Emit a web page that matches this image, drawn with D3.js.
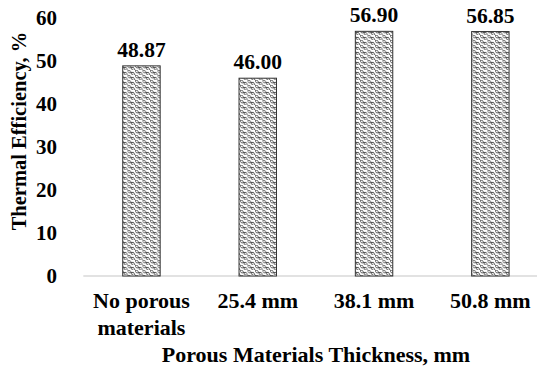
<!DOCTYPE html>
<html>
<head>
<meta charset="utf-8">
<script src="https://cdn.jsdelivr.net/npm/d3@7"></script>
<style>
  body { margin: 0; background: #fff; }
  svg { display: block; }
  text { font-family: "Liberation Serif", "Times New Roman", serif; font-weight: bold; fill: #000; }
</style>
</head>
<body>
<div id="wrapper"></div>
<script>
/// Data ///
const categories = ["No porous materials", "25.4 mm", "38.1 mm", "50.8 mm"];
const categoryLines = [["No porous", "materials"], ["25.4 mm"], ["38.1 mm"], ["50.8 mm"]];
const efficiency = [48.87, 46.00, 56.90, 56.85];
const yTicks = [0, 10, 20, 30, 40, 50, 60];

/// Dimensions ///
const width = 537;
const height = 370;

const svg = d3.select("#wrapper").append("svg")
  .attr("width", width)
  .attr("height", height);

// scale-like fill pattern
const defs = svg.append("defs");
const pat = defs.append("pattern")
  .attr("id", "scales")
  .attr("patternUnits", "userSpaceOnUse")
  .attr("width", 7.5)
  .attr("height", 5);
pat.append("rect").attr("width", 7.5).attr("height", 5).attr("fill", "#fff");
pat.append("path")
  .attr("d", "M0,0 Q0.5,4 3.75,2.5 Q6.5,1 7.5,5 M3.75,2.5 Q4.2,5.5 6,5 M-3.75,2.5 Q-1,1 0,5 M0,0 Q2,-1 3.75,2.5 M3.75,-2.5 Q6,-3 7.5,0")
  .attr("fill", "none")
  .attr("stroke", "#444")
  .attr("stroke-width", 0.9);

/// Scales ///
const x = d3.scaleBand()
  .domain(categories)
  .range([83.3, 548.5])
  .paddingInner(0.678)
  .paddingOuter(0.339);

const y = d3.scaleLinear()
  .domain([0, 60])
  .range([276, 18]);

/// Axis line ///
svg.append("line")
  .attr("x1", x.range()[0]).attr("x2", x.range()[1])
  .attr("y1", y(0)).attr("y2", y(0))
  .attr("stroke", "#d9d9d9")
  .attr("stroke-width", 1.3);

/// Bars ///
svg.selectAll("rect.bar")
  .data(efficiency)
  .join("rect")
    .attr("class", "bar")
    .attr("x", (d, i) => x(categories[i]))
    .attr("y", d => y(d))
    .attr("width", x.bandwidth())
    .attr("height", d => y(0) - y(d))
    .attr("fill", "url(#scales)")
    .attr("stroke", "#333")
    .attr("stroke-width", 1);

// value labels
svg.selectAll("text.value")
  .data(efficiency)
  .join("text")
    .attr("class", "value")
    .attr("x", (d, i) => x(categories[i]) + x.bandwidth() / 2)
    .attr("y", d => y(d) - 9)
    .attr("text-anchor", "middle")
    .attr("font-size", 21.5)
    .text(d => d.toFixed(2));

/// Y tick labels ///
svg.selectAll("text.ytick")
  .data(yTicks)
  .join("text")
    .attr("class", "ytick")
    .attr("x", 57)
    .attr("y", d => y(d))
    .attr("dy", "0.35em")
    .attr("text-anchor", "end")
    .attr("font-size", 21)
    .text(d => d);

/// X tick labels ///
const xt = svg.selectAll("text.xtick")
  .data(categories)
  .join("text")
    .attr("class", "xtick")
    .attr("x", d => x(d) + x.bandwidth() / 2)
    .attr("y", 308)
    .attr("text-anchor", "middle")
    .attr("font-size", 22);
xt.selectAll("tspan")
  .data((d, i) => categoryLines[i])
  .join("tspan")
    .attr("x", function() { return this.parentNode.getAttribute("x"); })
    .attr("dy", (d, j) => j === 0 ? 0 : 27)
    .text(d => d);

/// Axis titles ///
svg.append("text")
  .attr("x", 316)
  .attr("y", 362)
  .attr("text-anchor", "middle")
  .attr("font-size", 22)
  .text("Porous Materials Thickness, mm");

svg.append("text")
  .attr("transform", "translate(26,131) rotate(-90)")
  .attr("text-anchor", "middle")
  .attr("font-size", 20.5)
  .text("Thermal Efficiency, %");
</script>
</body>
</html>
